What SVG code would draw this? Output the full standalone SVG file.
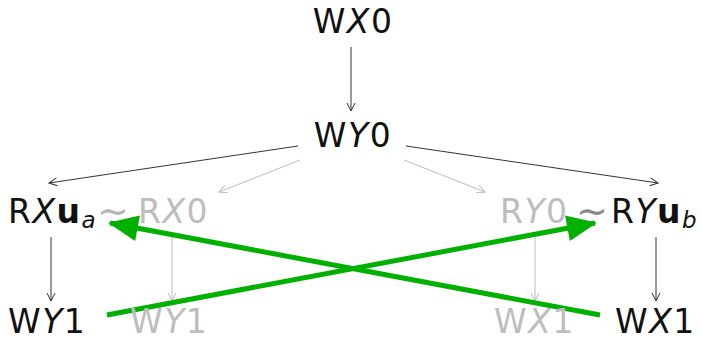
<svg xmlns="http://www.w3.org/2000/svg" width="702" height="341" viewBox="0 0 702 341">
  <defs>
    <style>
      text { font-family: "DejaVu Sans", "Open Sans", sans-serif; font-size: 33px; fill: #111; letter-spacing: 1.5px; }
      .dim { fill: #bdbdbd; }
      .it { font-style: italic; }
      .bf { font-weight: bold; }
      .sub { font-size: 23px; font-style: italic; }
      .tilde { font-size: 38px; letter-spacing: 0; }
      .edge { stroke: #333; stroke-width: 1; fill: none; marker-end: url(#tip); }
      .edge.faint { stroke: #bdbdbd; marker-end: url(#tipFaint); }
      .hb { stroke: #00b000; stroke-width: 5; fill: none; marker-end: url(#big); }
    </style>
    <marker id="tip" viewBox="0 0 10 10" refX="9" refY="5" markerWidth="10" markerHeight="10" markerUnits="userSpaceOnUse" orient="auto">
      <path d="M1,1 L9,5 L1,9" fill="none" stroke="#333" stroke-width="1"/>
    </marker>
    <marker id="tipFaint" viewBox="0 0 10 10" refX="9" refY="5" markerWidth="10" markerHeight="10" markerUnits="userSpaceOnUse" orient="auto">
      <path d="M1,1 L9,5 L1,9" fill="none" stroke="#bdbdbd" stroke-width="1"/>
    </marker>
    <marker id="big" viewBox="0 0 30 30" refX="28" refY="15" markerWidth="32" markerHeight="30" markerUnits="userSpaceOnUse" orient="auto">
      <path d="M0,2 L30,15 L0,28 Z" fill="#00b000"/>
    </marker>
  </defs>

  <g id="connectors">
    <line class="edge" x1="351" y1="47" x2="351" y2="111"/>
    <line class="edge" x1="298" y1="146" x2="49" y2="183"/>
    <line class="edge" x1="406" y1="146" x2="658" y2="183"/>
    <line class="edge faint" x1="300" y1="160" x2="219" y2="192"/>
    <line class="edge faint" x1="404" y1="160" x2="485" y2="192"/>
    <line class="edge" x1="51" y1="237" x2="51" y2="301"/>
    <line class="edge faint" x1="172" y1="237" x2="172" y2="301"/>
    <line class="edge faint" x1="535" y1="237" x2="535" y2="301"/>
    <line class="edge" x1="656" y1="237" x2="656" y2="301"/>
    <line class="hb" x1="107" y1="315" x2="595" y2="223"/>
    <line class="hb" x1="600" y1="315" x2="110" y2="223"/>
  </g>

  <g id="wx0"><text x="353" y="33" text-anchor="middle">W<tspan class="it">X</tspan>0</text></g>
  <g id="wy0"><text x="353" y="147" text-anchor="middle">W<tspan class="it">Y</tspan>0</text></g>
  <g id="rxua"><text x="8" y="223">R<tspan class="it">X</tspan><tspan class="bf">u</tspan><tspan class="sub" dy="5">a</tspan></text></g>
  <g id="tilde-left"><text class="tilde" x="97" y="224" style="fill:#b5b5b5">∼</text></g>
  <g id="rx0"><text class="dim" x="138" y="223">R<tspan class="it">X</tspan>0</text></g>
  <g id="ry0"><text class="dim" x="500" y="223">R<tspan class="it">Y</tspan>0</text></g>
  <g id="tilde-right"><text class="tilde" x="576" y="224" style="fill:#8a8a8a">∼</text></g>
  <g id="ryub"><text x="611" y="223">R<tspan class="it">Y</tspan><tspan class="bf">u</tspan><tspan class="sub" dy="5">b</tspan></text></g>
  <g id="wy1"><text x="8" y="333">W<tspan class="it">Y</tspan>1</text></g>
  <g id="wy1-faint"><text class="dim" x="130" y="333">W<tspan class="it">Y</tspan>1</text></g>
  <g id="wx1-faint"><text class="dim" x="494" y="333">W<tspan class="it">X</tspan>1</text></g>
  <g id="wx1"><text x="615" y="333">W<tspan class="it">X</tspan>1</text></g>
</svg>
